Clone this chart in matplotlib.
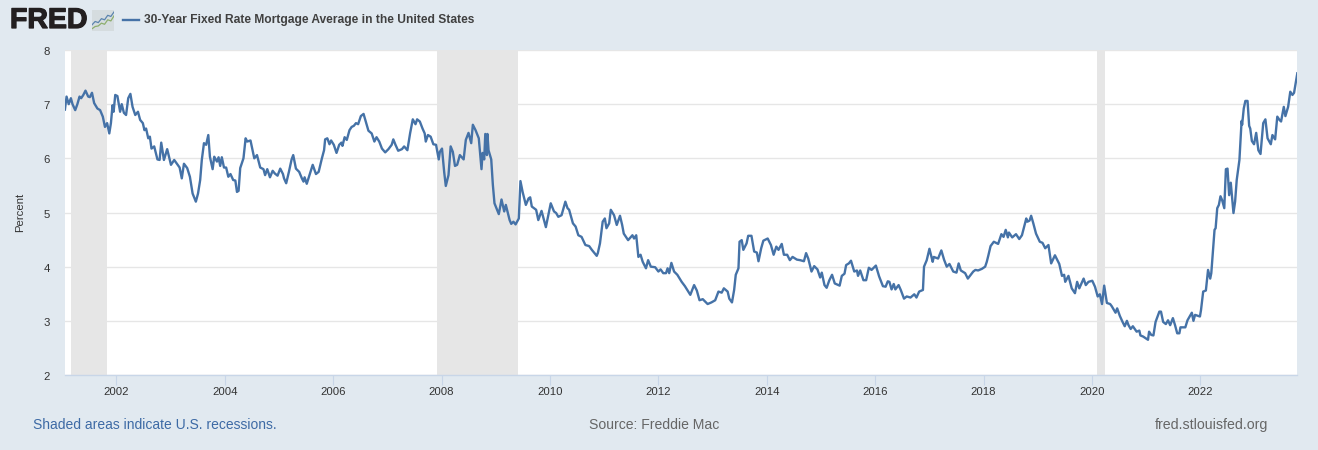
import matplotlib
matplotlib.use("Agg")
import matplotlib.pyplot as plt
import matplotlib.patheffects as pe
from matplotlib.lines import Line2D
import numpy as np

plt.rcParams['font.family'] = ['Liberation Sans', 'DejaVu Sans']

TITLE = "30-Year Fixed Rate Mortgage Average in the United States"
YLABEL = "Percent"
NOTE = "Shaded areas indicate U.S. recessions."
SOURCE = "Source: Freddie Mac"
SITE = "fred.stlouisfed.org"

x_ticks = [2002, 2004, 2006, 2008, 2010, 2012, 2014, 2016, 2018, 2020, 2022]
y_ticks = [2, 3, 4, 5, 6, 7, 8]
recessions = [(2001.164, 2001.833), (2007.92, 2009.42), (2020.09, 2020.25)]

years_a = [2001.05,2001.08,2001.12,2001.16,2001.19,2001.24,2001.28,2001.32,2001.35,2001.39,2001.43,2001.48,2001.51,2001.55,2001.59,2001.65,2001.70,2001.75,2001.79,2001.83,2001.87,2001.90,2001.93,2001.95,2001.98,
2002.02,2002.07,2002.10,2002.14,2002.18,2002.22,2002.26,2002.30,2002.35,2002.40,2002.44,2002.49,2002.52,2002.55,2002.59,2002.62,2002.65,2002.70,2002.76,2002.80,2002.83,2002.88,2002.94,
2003.01,2003.07,2003.12,2003.17,2003.21,2003.25,2003.31,2003.36,2003.41,2003.47,2003.51,2003.55,2003.58,2003.62,2003.66,2003.70,2003.73,2003.78,2003.81,2003.86,2003.89,2003.92,2003.95,2003.99,
2004.03,2004.07,2004.11,2004.16,2004.20,2004.23,2004.26,2004.29,2004.35,2004.39,2004.42,2004.48,2004.55,2004.60,2004.66,2004.72,2004.75,2004.79,2004.84,2004.89,2004.93,2004.98]
rates_a = [6.90,7.14,7.00,7.11,7.00,6.89,7.00,7.14,7.11,7.17,7.25,7.14,7.13,7.21,7.02,6.92,6.89,6.77,6.58,6.65,6.46,6.65,6.98,6.86,7.17,
7.15,6.86,7.00,6.84,6.80,7.11,7.19,6.95,6.80,6.86,6.71,6.65,6.52,6.55,6.37,6.40,6.18,6.22,5.98,5.97,6.29,5.97,6.17,
5.88,5.97,5.90,5.83,5.63,5.90,5.82,5.66,5.35,5.20,5.35,5.60,5.97,6.28,6.25,6.43,6.03,5.80,6.03,5.94,6.02,5.86,6.02,5.83,
5.83,5.66,5.71,5.60,5.59,5.38,5.40,5.82,6.00,6.37,6.31,6.33,6.00,6.06,5.83,5.80,5.69,5.80,5.65,5.77,5.72,5.68]

years_b = [2005.03,2005.08,2005.10,2005.14,2005.19,2005.24,2005.27,2005.32,2005.38,2005.43,2005.46,2005.48,2005.52,2005.57,2005.63,2005.69,2005.74,2005.80,2005.84,2005.86,2005.90,2005.94,2005.97,
2006.02,2006.07,2006.12,2006.16,2006.18,2006.22,2006.26,2006.31,2006.35,2006.39,2006.43,2006.47,2006.52,2006.57,2006.62,2006.66,2006.72,2006.77,2006.81,2006.86,2006.91,2006.97,
2007.03,2007.09,2007.12,2007.16,2007.21,2007.28,2007.32,2007.38,2007.43,2007.48,2007.53,2007.56,2007.61,2007.66,2007.70,2007.72,2007.76,2007.81,2007.86,2007.91,2007.96,2007.98,
2008.02,2008.06,2008.09,2008.14,2008.18,2008.22,2008.26,2008.30,2008.35,2008.42,2008.46,2008.51,2008.56,2008.59,2008.64,2008.70,2008.75,2008.77,2008.80,2008.82,2008.85,2008.86,2008.88,2008.93,2008.96,2008.99,
2009.07,2009.12,2009.17,2009.20,2009.27,2009.30,2009.34,2009.38,2009.44,2009.47,2009.51,2009.57,2009.62,2009.65,2009.68,2009.76,2009.80,2009.86,2009.94]
rates_b = [5.81,5.71,5.63,5.54,5.75,5.98,6.06,5.81,5.75,5.63,5.57,5.65,5.53,5.69,5.88,5.71,5.75,6.00,6.15,6.35,6.37,6.26,6.33,
6.25,6.10,6.25,6.29,6.23,6.39,6.34,6.52,6.58,6.60,6.65,6.63,6.78,6.82,6.65,6.51,6.46,6.31,6.39,6.31,6.18,6.11,
6.17,6.25,6.35,6.25,6.14,6.17,6.22,6.15,6.46,6.72,6.63,6.72,6.68,6.55,6.46,6.31,6.43,6.40,6.26,6.25,5.98,6.12,
6.18,5.75,5.49,5.69,6.22,6.12,5.86,5.88,6.06,5.98,6.34,6.47,6.28,6.62,6.52,6.37,5.80,6.10,5.98,6.45,6.06,6.45,6.15,5.98,5.51,5.17,
4.97,5.24,5.02,5.14,4.86,4.79,4.83,4.78,4.89,5.58,5.38,5.14,5.26,5.28,5.11,5.05,4.86,5.03,4.73]

years_c = [2010.03,2010.09,2010.13,2010.17,2010.23,2010.30,2010.34,2010.37,2010.44,2010.49,2010.54,2010.60,2010.67,2010.74,2010.79,2010.88,2010.90,2010.94,2010.99,
2011.03,2011.06,2011.11,2011.14,2011.20,2011.25,2011.31,2011.35,2011.38,2011.46,2011.54,2011.57,2011.61,2011.65,2011.69,2011.73,2011.79,2011.83,2011.88,2011.96,
2012.02,2012.06,2012.11,2012.16,2012.19,2012.22,2012.26,2012.31,2012.37,2012.45,2012.51,2012.61,2012.68,2012.73,2012.78,2012.84,2012.93,
2013.00,2013.07,2013.13,2013.19,2013.23,2013.30,2013.33,2013.38,2013.42,2013.45,2013.50,2013.52,2013.56,2013.59,2013.65,2013.68,2013.74,2013.79,2013.84,2013.87,2013.92,2013.96,
2014.04,2014.10,2014.15,2014.20,2014.24,2014.30,2014.34,2014.40,2014.45,2014.50,2014.58,2014.64,2014.71,2014.75,2014.79,2014.85,2014.90,2014.96]
rates_c = [5.17,5.02,4.99,4.92,4.95,5.20,5.08,5.05,4.80,4.74,4.58,4.55,4.40,4.38,4.31,4.20,4.25,4.43,4.83,
4.89,4.71,4.80,5.05,4.95,4.77,4.94,4.77,4.61,4.49,4.58,4.52,4.58,4.18,4.22,4.09,3.97,4.12,4.00,3.99,
3.91,3.95,3.88,3.88,3.97,3.88,4.07,3.91,3.85,3.72,3.64,3.48,3.66,3.56,3.38,3.40,3.31,
3.34,3.38,3.54,3.52,3.60,3.54,3.41,3.34,3.57,3.85,3.97,4.46,4.49,4.31,4.43,4.57,4.57,4.28,4.26,4.10,4.34,4.48,
4.52,4.40,4.22,4.37,4.31,4.42,4.22,4.22,4.12,4.18,4.13,4.12,4.10,4.25,4.15,3.91,4.01,3.95]

years_d = [2015.01,2015.04,2015.09,2015.13,2015.18,2015.23,2015.28,2015.37,2015.41,2015.46,2015.49,2015.54,2015.58,2015.64,2015.69,2015.71,2015.75,2015.81,2015.86,2015.91,2015.96,
2016.04,2016.10,2016.17,2016.22,2016.26,2016.29,2016.33,2016.37,2016.40,2016.46,2016.50,2016.56,2016.61,2016.68,2016.75,2016.79,2016.84,2016.91,2016.93,2016.98,
2017.03,2017.09,2017.11,2017.19,2017.25,2017.30,2017.35,2017.40,2017.47,2017.53,2017.57,2017.61,2017.69,2017.74,2017.84,2017.88,2017.93,2018.00,2018.06,2018.09,
2018.12,2018.16,2018.22,2018.30,2018.36,2018.40,2018.44,2018.48,2018.50,2018.56,2018.63,2018.69,2018.74,2018.82,2018.84,2018.88,2018.91,2018.95,
2019.00,2019.07,2019.12,2019.17,2019.23,2019.28,2019.35,2019.43,2019.48,2019.52,2019.54,2019.60,2019.66,2019.72,2019.76,2019.80,2019.88,2019.92,2019.97]
rates_d = [3.80,3.89,3.66,3.61,3.75,3.85,3.69,3.65,3.83,3.87,4.03,4.06,4.11,3.91,3.93,3.83,3.93,3.75,3.75,3.98,3.94,
4.02,3.82,3.64,3.63,3.73,3.72,3.58,3.68,3.58,3.66,3.57,3.41,3.45,3.43,3.49,3.43,3.54,3.57,4.00,4.12,
4.33,4.09,4.18,4.15,4.30,4.13,4.00,4.05,3.91,3.89,4.06,3.93,3.88,3.78,3.91,3.94,3.93,3.96,4.00,4.09,
4.21,4.38,4.46,4.42,4.60,4.55,4.68,4.54,4.63,4.54,4.60,4.51,4.58,4.89,4.83,4.85,4.94,4.80,
4.61,4.46,4.44,4.34,4.40,4.06,4.21,4.05,3.83,3.85,3.72,3.83,3.60,3.51,3.72,3.60,3.78,3.66,3.72]

years_e = [2020.04,2020.09,2020.14,2020.18,2020.22,2020.26,2020.31,2020.37,2020.40,2020.47,2020.50,2020.55,2020.60,2020.64,2020.68,2020.71,2020.75,2020.79,2020.86,2020.91,2020.93,2020.98,
2021.07,2021.09,2021.13,2021.17,2021.21,2021.28,2021.31,2021.35,2021.40,2021.44,2021.48,2021.53,2021.57,2021.61,2021.65,2021.67,2021.76,2021.80,2021.88,2021.91,2021.94,
2022.03,2022.05,2022.09,2022.14,2022.18,2022.22,2022.24,2022.30,2022.32,2022.35,2022.38,2022.41,2022.44,2022.48,2022.51,2022.54,2022.57,2022.60,2022.65,2022.68,2022.71,2022.76,2022.80,2022.81,2022.84,2022.87,2022.91,2022.94,2022.96,2022.99,
2023.03,2023.07,2023.11,2023.15,2023.20,2023.24,2023.28,2023.34,2023.37,2023.42,2023.46,2023.50,2023.53,2023.58,2023.61,2023.66,2023.70,2023.74,2023.77,2023.83]
rates_e = [3.74,3.63,3.45,3.49,3.31,3.65,3.33,3.31,3.27,3.15,3.23,3.09,2.98,2.90,3.00,2.92,2.85,2.90,2.80,2.82,2.73,2.71,
2.65,2.80,2.74,2.73,2.98,3.17,3.17,2.98,2.94,3.01,2.92,3.05,2.92,2.77,2.77,2.88,2.88,3.01,3.15,3.00,3.11,
3.08,3.20,3.54,3.56,3.94,3.78,3.88,4.68,4.71,5.08,5.14,5.30,5.23,5.08,5.80,5.81,5.32,5.55,4.99,5.20,5.60,5.97,6.69,6.62,6.92,7.06,7.06,6.60,6.55,6.32,
6.26,6.47,6.15,6.08,6.65,6.72,6.37,6.26,6.43,6.35,6.77,6.71,6.68,6.95,6.78,6.95,7.23,7.17,7.21,7.57]

years = np.array(years_a + years_b + years_c + years_d + years_e)
rates = np.array(rates_a + rates_b + rates_c + rates_d + rates_e)
# the years above were read on a 54.1 px/yr ruler; the axis runs at 54.2 px/yr
years = 2002 + (years - 2002) * 54.1 / 54.2

BG = "#E1E9F0"
W, H = 1318, 450
fig = plt.figure(figsize=(W / 100, H / 100), dpi=100, facecolor=BG)
L, R, T, B = 65, 1297, 50, 375
ax = fig.add_axes([L / W, 1 - B / H, (R - L) / W, (B - T) / H], facecolor="white")
ax.plot(years, rates, color="#4572A7", lw=1.7, zorder=3, solid_joinstyle="round", clip_on=True)
for a, b in recessions:
    ax.axvspan(a, b, facecolor="#E6E6E6", edgecolor="none", zorder=1.5)
ax.set_xlim(2001.053, 2023.784)
ax.set_ylim(2, 8)
ax.set_yticks(y_ticks)
ax.set_xticks(x_ticks)
ax.grid(axis="y", color="#E6E6E6", lw=1, zorder=0.5)
ax.set_axisbelow(True)
for s in ["top", "left", "right"]:
    ax.spines[s].set_visible(False)
ax.spines["bottom"].set_color("#C8D6E8")
ax.spines["bottom"].set_linewidth(1)
ax.tick_params(axis="y", length=0, pad=11, labelsize=8.2, labelcolor="#333333")
ax.tick_params(axis="x", length=7, width=0.8, color="#C8D6E8", pad=1.5, labelsize=8.2, labelcolor="#333333")
for lab in ax.get_yticklabels():
    lab.set_verticalalignment("center")
    lab.set_y(lab.get_position()[1])
    lab.set_transform(lab.get_transform() + matplotlib.transforms.ScaledTranslation(0, -1.5 / 72, fig.dpi_scale_trans))

def ftext(x, y, s, **kw):
    return fig.text(x / W, 1 - y / H, s, **kw)

ftext(20, 212, YLABEL, rotation=90, ha="center", va="center", fontsize=8.2, color="#333333")
ftext(144, 19.5, TITLE, ha="left", va="center", fontsize=8.65, fontweight="bold", color="#404040")
fig.add_artist(Line2D([123 / W, 139 / W], [1 - 20 / H] * 2, color="#4572A7", lw=1.7, transform=fig.transFigure))
ftext(33, 425, NOTE, ha="left", va="center", fontsize=10.0, color="#3D6AA5")
ftext(589, 425, SOURCE, ha="left", va="center", fontsize=10.1, color="#666666")
ftext(1155, 425, SITE, ha="left", va="center", fontsize=10.2, color="#666666")

# FRED logo: wordmark and small chart icon
wordmark = ftext(10, 21, "FRED", ha="left", va="center", fontsize=20.5, fontweight="bold", color="#231F20")
wordmark.set_path_effects([pe.withStroke(linewidth=0.9, foreground="#231F20")])
logo = fig.add_axes([92 / W, 1 - 31 / H, 22 / W, 21 / H], facecolor="#D5DCDF")
logo_x = [0, 1, 2, 3, 4, 5, 6, 7]
logo_blue = [2.2, 3.4, 3.0, 4.4, 4.0, 5.6, 5.2, 6.8]
logo_green = [0.8, 1.6, 1.8, 2.8, 2.4, 4.0, 3.6, 5.4]
logo.plot(logo_x, logo_blue, color="#5B84AE", lw=0.9)
logo.plot(logo_x, logo_green, color="#8DAE6E", lw=0.9)
logo.set_xlim(0, 7); logo.set_ylim(0, 7.5)
logo.set_xticks([]); logo.set_yticks([])
for s in logo.spines.values():
    s.set_visible(False)

fig.savefig("out.png", dpi=100, facecolor=BG)
